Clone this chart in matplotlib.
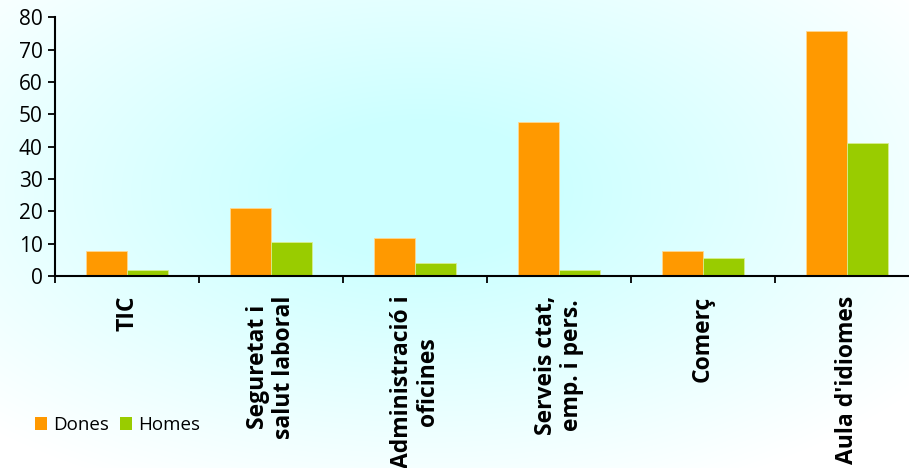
import numpy as np
import matplotlib
matplotlib.use("Agg")
import matplotlib.pyplot as plt
from matplotlib.patches import Patch

categories = ["TIC", "Seguretat i\nsalut laboral", "Administració i\noficines",
              "Serveis ctat,\nemp. i pers.", "Comerç", "Aula d'idiomes"]
dones = [7.8, 21.0, 11.6, 47.5, 7.8, 75.8]
homes = [1.9, 10.5, 4.0, 1.9, 5.7, 41.0]
yticks = [0, 10, 20, 30, 40, 50, 60, 70, 80]

W, H = 909, 468
fig = plt.figure(figsize=(W/100, H/100), dpi=100)

# background gradient
bg = fig.add_axes([0, 0, 1, 1], zorder=-10)
yy, xx = np.mgrid[0:H, 0:W]
cx, cy, rx, ry = 420, 190, 620, 330
d = np.sqrt(((xx - cx)/rx)**2 + ((yy - cy)/ry)**2)
t = np.clip(1 - d, 0, 1)
t = np.clip(t*1.25, 0, 1)
c0 = np.array([1.0, 1.0, 1.0])
c1 = np.array([0.80, 1.0, 1.0])
img = c0[None, None, :]*(1 - t[..., None]) + c1[None, None, :]*t[..., None]
bg.imshow(img, aspect='auto', extent=[0, W, H, 0])
bg.axis('off')

left = 55/W
bottom = (H - 276)/H
height = (276 - 17.3)/H
ax = fig.add_axes([left, bottom, (W - 55)/W, height])
ax.patch.set_alpha(0)

x = np.arange(len(categories))
bw = 0.285
ax.bar(x - bw/2, dones, bw, color='#FF9900', edgecolor='#FFD890', linewidth=0.6, label='Dones')
ax.bar(x + bw/2, homes, bw, color='#99CC00', edgecolor='#D8EE90', linewidth=0.6, label='Homes')

ax.set_yticks(yticks)
ax.tick_params(axis='y', labelsize=15, length=5, width=1.3, direction='out', pad=4)
ax.set_xticks(np.arange(len(categories)+1) - 0.5)
ax.set_xticklabels([])
ax.tick_params(axis='x', length=5, width=1.3, direction='out')
ax.set_xticks(x, minor=True)
ax.set_xticklabels(categories, minor=True, rotation=90, fontsize=16.5, fontweight='bold',
                   ha='center', va='top', multialignment='center', linespacing=1.15)
ax.tick_params(axis='x', which='minor', length=0, pad=14)
ax.set_ylim(0, 80)
ax.set_xlim(-0.5, -0.5 + (W - 55)/144)
for s in ['top', 'right']:
    ax.spines[s].set_visible(False)
for s in ['left', 'bottom']:
    ax.spines[s].set_linewidth(1.5)
for lab in ax.get_yticklabels():
    lab.set_fontfamily('Open Sans')
for lab in ax.get_xticklabels(minor=True):
    lab.set_fontfamily('Open Sans')

handles = [Patch(facecolor='#FF9900'), Patch(facecolor='#99CC00')]
fig.legend(handles, ['Dones', 'Homes'], loc='center left',
           bbox_to_anchor=(18/W, 1 - 425/H), ncol=2, frameon=False,
           handlelength=0.65, handleheight=0.65, handletextpad=0.3, columnspacing=0.6,
           prop={'family': 'Open Sans', 'size': 13.5})

fig.savefig('out.png', dpi=100)
